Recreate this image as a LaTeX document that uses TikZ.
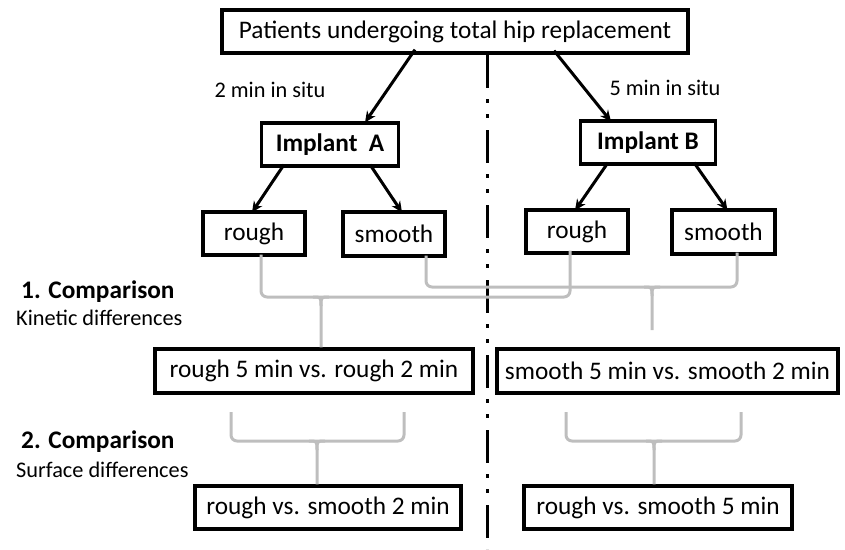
\documentclass[tikz,border=0pt]{standalone}
\usepackage{fontspec}
\setmainfont{Carlito}
\usetikzlibrary{arrows.meta}
\begin{document}
\begin{tikzpicture}[x=1pt,y=-1pt,
  box/.style={draw=black,line width=3.2pt,inner sep=0pt,font=\fontsize{25.3}{28}\selectfont},
  bbox/.style={box,font=\fontsize{25.3}{28}\selectfont\bfseries},
  lbl/.style={inner sep=0pt,font=\fontsize{22.3}{26}\selectfont},
  hdr/.style={inner sep=0pt,font=\fontsize{25.3}{28}\selectfont\bfseries},
  arr/.style={line width=3pt,-{Stealth[length=11pt,width=10pt]}},
  brk/.style={draw={rgb,255:red,190;green,190;blue,190},line width=3pt,rounded corners=6pt},
  tick/.style={draw={rgb,255:red,190;green,190;blue,190},line width=3pt}
]
\useasboundingbox (0,0) rectangle (845,549);

% dash-dot-dot divider
\coordinate (dtop) at (487,55);
\coordinate (dbot) at (487,549);
\draw[line width=3pt,dash pattern=on 33pt off 11pt on 4pt off 11pt on 4pt off 12pt] (dtop) -- (dbot);

% nodes
\node[box,minimum width=466pt,minimum height=43pt] (top) at (455,31.5) {Patients undergoing total hip replacement};
\node[bbox,minimum width=137pt,minimum height=43pt] (ia) at (330,144.5) {Implant\ \ A};
\node[bbox,minimum width=135pt,minimum height=43pt] (ib) at (648,142.5) {Implant B};
\node[box,minimum width=102pt,minimum height=43pt] (ra) at (254,233.5) {rough};
\node[box,minimum width=102pt,minimum height=44pt] (sa) at (394,234) {smooth};
\node[box,minimum width=102pt,minimum height=43pt] (rb) at (577,231.5) {rough};
\node[box,minimum width=103pt,minimum height=44pt] (sb) at (723.5,232) {smooth};
\node[box,minimum width=318pt,minimum height=44pt] (rr) at (314,371) {rough 5 min vs. rough 2 min};
\node[box,minimum width=341pt,minimum height=44pt] (ss) at (667.5,371) {smooth 5 min vs. smooth 2 min};
\node[box,minimum width=266pt,minimum height=43pt] (rs2) at (328,507.5) {rough vs. smooth 2 min};
\node[box,minimum width=268pt,minimum height=43pt] (rs5) at (658,507.5) {rough vs. smooth 5 min};

% labels
\node[lbl] (l2) at (270,90) {2 min in situ};
\node[lbl] (l5) at (665,88) {5 min in situ};
\node[hdr,anchor=west] (c1) at (21,292) {1. Comparison};
\node[lbl,anchor=west] (k1) at (16,318) {Kinetic differences};
\node[hdr,anchor=west] (c2) at (21,442) {2. Comparison};
\node[lbl,anchor=west] (k2) at (16,470) {Surface differences};

% arrows
\draw[arr] ([xshift=-40pt,yshift=5pt]top.south) -- ([xshift=35pt,yshift=-1pt]ia.north);
\draw[arr] ([xshift=99pt,yshift=4pt]top.south) -- ([xshift=-37pt,yshift=-2pt]ib.north);
\draw[arr] ([xshift=-46pt,yshift=3pt]ia.south) -- ([xshift=-2pt,yshift=-2pt]ra.north);
\draw[arr] ([xshift=40pt,yshift=3pt]ia.south) -- ([xshift=8pt,yshift=-2pt]sa.north);
\draw[arr] ([xshift=-40pt,yshift=3pt]ib.south) -- ([xshift=-2pt,yshift=-2pt]rb.north);
\draw[arr] ([xshift=46pt,yshift=3pt]ib.south) -- ([xshift=4pt,yshift=-2pt]sb.north);

% bracket 1: rough A + rough B -> rr
\coordinate (m1) at (321,297);
\draw[brk] ([xshift=7pt,yshift=2pt]ra.south) |- (m1) -| ([xshift=-7pt,yshift=4pt]rb.south);
\draw[tick] (313,297) .. controls (321,297) .. (321,306) -- (rr.north -| m1);
\draw[tick] (329,297) .. controls (321,297) .. (321,306);

% bracket 2: smooth A + smooth B -> ss
\coordinate (m2) at (652,287);
\draw[brk] ([xshift=32pt,yshift=2pt]sa.south) |- (m2) -| ([xshift=13.5pt,yshift=3pt]sb.south);
\coordinate (e2) at (652,330);
\draw[tick] (644,287) .. controls (652,287) .. (652,296) -- (e2);
\draw[tick] (660,287) .. controls (652,287) .. (652,296);

% bracket 3: -> rs2
\coordinate (a3) at (231,412);
\coordinate (b3) at (404,412);
\coordinate (m3) at (317,441);
\draw[brk] (a3) |- (m3) -| (b3);
\draw[tick] (309,441) .. controls (317,441) .. (317,450) -- (rs2.north -| m3);
\draw[tick] (325,441) .. controls (317,441) .. (317,450);

% bracket 4: -> rs5
\coordinate (a4) at (566,412);
\coordinate (b4) at (741,412);
\coordinate (m4) at (654,441);
\draw[brk] (a4) |- (m4) -| (b4);
\draw[tick] (646,441) .. controls (654,441) .. (654,450) -- (rs5.north -| m4);
\draw[tick] (662,441) .. controls (654,441) .. (654,450);
\end{tikzpicture}
\end{document}
